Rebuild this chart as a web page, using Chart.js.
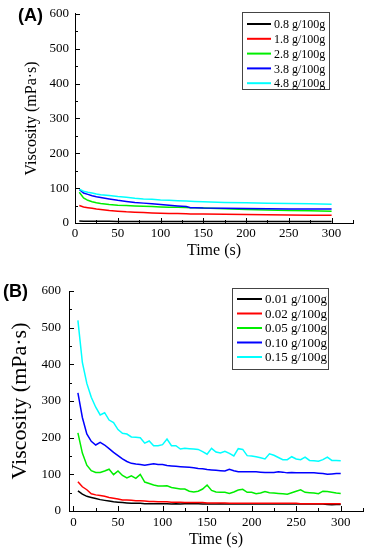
<!DOCTYPE html>
<html>
<head>
<meta charset="utf-8">
<script src="https://cdn.jsdelivr.net/npm/chart.js@4.4.0/dist/chart.umd.min.js"></script>
<style>
  body { margin: 0; background: #fff; }
  #wrap { position: relative; width: 367px; height: 550px; }
  canvas { position: absolute; left: 0; }
  .tag { position: absolute; font: bold 18px "Liberation Sans", Arial, sans-serif; line-height: 18px; color: #000; }
</style>
</head>
<body>
<div id="wrap">
  <canvas id="chartA" width="367" height="275" style="top:0"></canvas>
  <canvas id="chartB" width="367" height="275" style="top:275px"></canvas>
  <div class="tag" style="left:18px;top:6px">(A)</div>
  <div class="tag" style="left:3px;top:282px">(B)</div>
</div>
<script>
// panel A data (s, mPa·s)
const timeA = [5, 10, 15, 20, 25, 30, 40, 50, 60, 70, 80, 90, 100, 110, 120, 130, 135, 140, 150, 175, 200, 225, 250, 275, 300];
const labelsA = ["0.8 g/100g", "1.8 g/100g", "2.8 g/100g", "3.8 g/100g", "4.8 g/100g"];
const a08 = [6, 5, 5, 5, 5, 5, 5, 4.5, 4.5, 4.5, 4.5, 4.5, 4.5, 4.5, 4.5, 4.5, 4.5, 4.5, 4.5, 4.5, 4.5, 4.5, 4.5, 4.5, 4.5];
const a18 = [50, 46, 44, 42, 40, 39, 36, 34, 32, 31, 30, 29, 28, 27.5, 27, 26.5, 26, 26, 25.5, 25, 24.5, 24, 23, 22.5, 22];
const a28 = [88, 72, 65, 61, 58, 56, 53, 51, 50, 49, 48, 47, 46, 45.5, 45, 44.5, 44, 44, 43, 41, 39, 37, 36, 35, 34];
const a38 = [96, 86, 82, 78, 75, 73, 69, 65, 62, 59, 57, 55, 53, 51, 49, 47, 44, 44, 43, 42, 41.5, 41, 40.5, 40, 40];
const a48 = [97, 91, 88, 86, 83, 81, 79, 76, 74, 71, 69, 68, 66, 65, 64, 63, 62.5, 62, 61, 59, 58, 57, 56, 55, 54];

// panel B data
const timeB = [5, 10, 15, 20, 25, 30, 35, 40, 45, 50, 55, 60, 65, 70, 75, 80, 85, 90, 95, 100,
  105, 110, 115, 120, 125, 130, 135, 140, 145, 150, 155, 160, 165, 170, 175, 180, 185, 190, 195, 200,
  205, 210, 215, 220, 225, 230, 235, 240, 245, 250, 255, 260, 265, 270, 275, 280, 285, 290, 295, 300];
const labelsB = ["0.01 g/100g", "0.02 g/100g", "0.05 g/100g", "0.10 g/100g", "0.15 g/100g"];
const b001 = [55, 46, 40, 37, 34, 31, 29, 27, 25, 24, 23, 22, 21, 21, 21, 20, 20, 20, 20, 20,
  20, 19, 20, 19, 20, 20, 20, 20, 19, 19, 19, 19, 20, 19, 19, 19, 19, 19, 19, 19,
  19, 19, 19, 19, 19, 19, 19, 19, 19, 19, 19, 19, 19, 19, 19, 19, 18, 17, 18, 18];
const b002 = [80, 66, 58, 47, 44, 42, 40, 37, 35, 33, 30, 30, 29, 28, 28, 27, 26, 26, 25, 25,
  25, 24, 24, 24, 23, 23, 23, 23, 23, 22, 22, 22, 22, 22, 21, 21, 21, 21, 21, 21,
  21, 21, 21, 21, 21, 21, 21, 21, 21, 21, 20, 20, 20, 20, 20, 20, 20, 20, 20, 20];
const b005 = [213, 158, 125, 110, 105, 105, 109, 114, 99, 109, 97, 90, 96, 89, 100, 79, 75, 71, 68, 68,
  69, 64, 62, 60, 60, 54, 52, 54, 60, 71, 56, 52, 51, 51, 48, 52, 57, 59, 51, 51,
  47, 49, 53, 50, 49, 48, 47, 46, 50, 54, 58, 51, 50, 49, 47, 54, 53, 51, 49, 48];
const b010 = [322, 255, 210, 190, 180, 187, 180, 170, 160, 151, 142, 135, 130, 128, 127, 125, 127, 129, 127, 127,
  124, 123, 122, 121, 120, 119, 118, 116, 115, 113, 112, 111, 110, 109, 114, 110, 107, 107, 107, 107,
  107, 106, 105, 105, 105, 107, 106, 104, 105, 104, 104, 104, 104, 104, 103, 102, 100, 101, 102, 102];
const b015 = [520, 405, 348, 310, 283, 262, 268, 248, 241, 222, 212, 210, 202, 201, 200, 185, 191, 178, 178, 181,
  196, 178, 178, 169, 171, 170, 169, 168, 162, 155, 171, 161, 158, 163, 157, 150, 170, 168, 151, 150,
  148, 145, 142, 156, 152, 146, 140, 140, 148, 142, 140, 147, 138, 137, 136, 140, 147, 138, 138, 137];

const colors = ["#000000", "#ff0000", "#00ee00", "#0000ff", "#00ffff"];
const yTicks = [0, 100, 200, 300, 400, 500, 600];

const serif = '"Liberation Serif", "Times New Roman", serif';

function makeSets(time, series, labels) {
  return series.map((vals, i) => ({
    label: labels[i],
    data: vals.map((v, k) => ({ x: time[k], y: v })),
    borderColor: colors[i],
    borderWidth: 1.5,
    pointRadius: 0,
    tension: 0,
    order: series.length - i
  }));
}

// ticks inside the frame, Origin style
const innerTicks = {
  id: "innerTicks",
  afterDraw(chart) {
    const { ctx, chartArea: a, scales: { x, y } } = chart;
    ctx.save();
    ctx.strokeStyle = "#000";
    ctx.lineWidth = 1;
    ctx.beginPath();
    x.ticks.forEach(t => {
      const px = Math.round(x.getPixelForValue(t.value)) + 0.5;
      ctx.moveTo(px, a.bottom); ctx.lineTo(px, a.bottom - 5);
      const mv = t.value + 25;
      if (mv <= x.max) {
        const mx = Math.round(x.getPixelForValue(mv)) + 0.5;
        ctx.moveTo(mx, a.bottom); ctx.lineTo(mx, a.bottom - 3);
      }
    });
    y.ticks.forEach(t => {
      const py = Math.round(y.getPixelForValue(t.value)) + 0.5;
      ctx.moveTo(a.left, py); ctx.lineTo(a.left + 5, py);
      const mv = t.value + 50;
      if (mv < y.max) {
        const my = Math.round(y.getPixelForValue(mv)) + 0.5;
        ctx.moveTo(a.left, my); ctx.lineTo(a.left + 3, my);
      }
    });
    ctx.stroke();
    ctx.restore();
  }
};

// framed legend
const boxLegend = {
  id: "boxLegend",
  afterDraw(chart, args, o) {
    const ctx = chart.ctx;
    ctx.save();
    ctx.strokeStyle = "#444";
    ctx.lineWidth = 1;
    ctx.strokeRect(o.x + 0.5, o.y + 0.5, o.w, o.h);
    ctx.font = o.size + "px " + serif;
    ctx.textBaseline = "middle";
    ctx.fillStyle = "#000";
    chart.data.datasets.forEach((ds, i) => {
      const ry = o.y + o.first + i * o.step;
      ctx.strokeStyle = ds.borderColor;
      ctx.lineWidth = 2;
      ctx.beginPath();
      ctx.moveTo(o.x + o.l0, ry); ctx.lineTo(o.x + o.l1, ry);
      ctx.stroke();
      ctx.fillText(ds.label, o.x + o.tx, ry + 1);
    });
    ctx.restore();
  }
};

function makeChart(id, time, series, labels, p) {
  return new Chart(document.getElementById(id), {
    type: "line",
    data: { datasets: makeSets(time, series, labels) },
    options: {
      responsive: false,
      animation: false,
      layout: { padding: { top: p.top, right: p.right, left: 0, bottom: 0 } },
      plugins: {
        legend: { display: false },
        tooltip: { enabled: false },
        boxLegend: p.legend
      },
      scales: {
        x: {
          type: "linear",
          min: p.xmin, max: 325,
          grid: { display: false, drawTicks: false },
          border: { display: true, color: "#000", width: 1 },
          ticks: { stepSize: 50, includeBounds: false, color: "#000", maxRotation: 0,
                   padding: p.xpad, font: { family: serif, size: 13 } },
          title: { display: true, text: "Time (s)", color: "#000",
                   font: { family: serif, size: 16 }, padding: { top: 0, bottom: p.xtitlePad } },
          afterFit: s => { s.height = p.xh; }
        },
        y: {
          min: 0, max: 600,
          grid: { display: false, drawTicks: false },
          border: { display: true, color: "#000", width: 1 },
          afterBuildTicks: s => { s.ticks = yTicks.map(v => ({ value: v })); },
          ticks: { color: "#000", padding: p.ypad, font: { family: serif, size: 13 } },
          title: { display: true, text: "Viscosity (mPa·s)", color: "#000",
                   font: { family: serif, size: p.ytitleSize }, padding: { top: p.ytitlePad, bottom: 0 } },
          afterFit: s => { s.width = p.yw; }
        }
      }
    },
    plugins: [innerTicks, boxLegend]
  });
}

makeChart("chartA", timeA, [a08, a18, a28, a38, a48], labelsA, {
  top: 9, right: 14, xmin: 0, xh: 52, yw: 75, xpad: 3, ypad: 6,
  xtitlePad: 15, ytitlePad: 22, ytitleSize: 16,
  legend: { x: 242, y: 12, w: 87, h: 77, first: 12, step: 14.8, l0: 5, l1: 29, tx: 32, size: 12 }
});

makeChart("chartB", timeB, [b001, b002, b005, b010, b015], labelsB, {
  top: 16, right: 4, xmin: -5, xh: 39, yw: 69, xpad: 4, ypad: 8,
  xtitlePad: 1, ytitlePad: 7, ytitleSize: 22,
  legend: { x: 232, y: 13, w: 96, h: 81, first: 11, step: 14.5, l0: 5, l1: 30, tx: 33, size: 13 }
});
</script>
</body>
</html>
